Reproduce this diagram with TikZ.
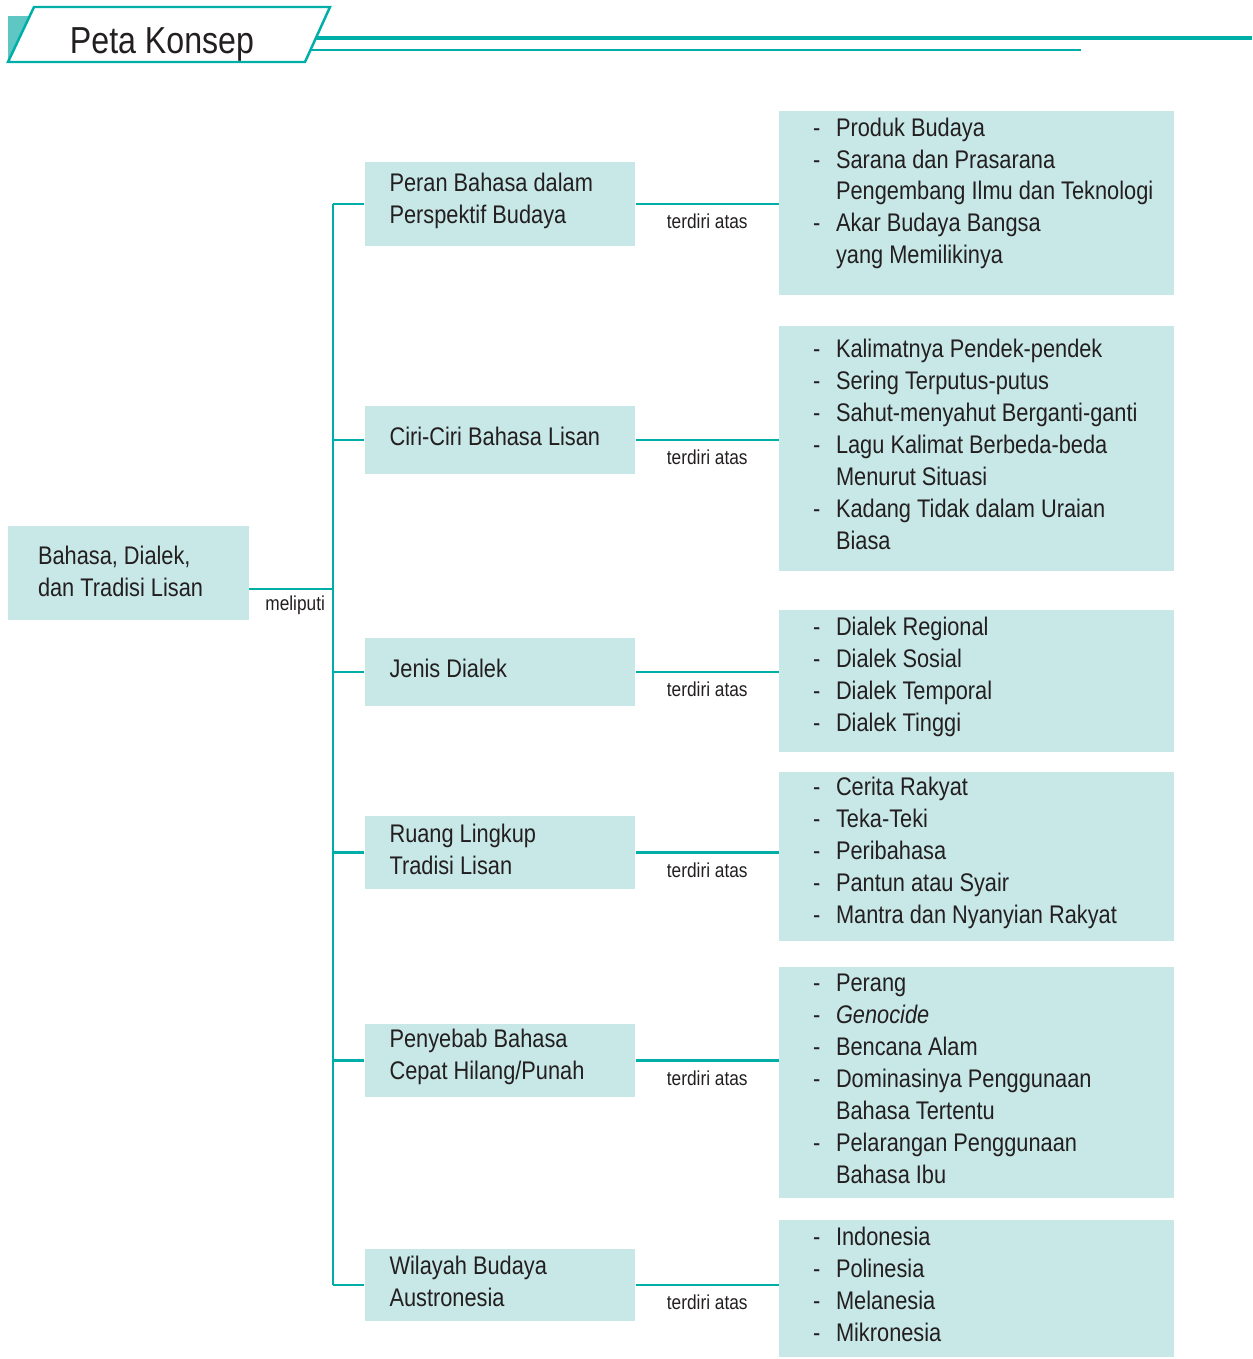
\documentclass[tikz,border=0pt]{standalone}
\usepackage{fontspec}
\setmainfont{Liberation Sans}[FakeStretch=0.855]
\definecolor{tosca}{RGB}{0,174,168}
\definecolor{toscamuda}{RGB}{200,232,232}
\definecolor{toscasegi}{RGB}{94,198,195}
\definecolor{teks}{RGB}{35,31,32}
\newcommand{\butir}{\hspace*{0.68cm}\makebox[0.46cm][l]{-}}
\newcommand{\lanjut}{\hspace*{1.14cm}}
\tikzset{
  akar/.style={fill=toscamuda, text=teks, font=\fontsize{14.5}{18.2}\selectfont, align=flush left,
    text width=3.62cm, inner xsep=0.6cm, inner ysep=0.1cm, minimum height=1.88cm,
    execute at end node={\par\vspace{0.08cm}}},
  tengah/.style={fill=toscamuda, text=teks, font=\fontsize{14.5}{18.2}\selectfont, align=flush left,
    text width=4.42cm, inner xsep=0.5cm, inner ysep=0.1cm,
    execute at end node={\par\vspace{0.13cm}}},
  rincian/.style={fill=toscamuda, text=teks, font=\fontsize{14.5}{18.2}\selectfont, align=flush left,
    text width=7.9cm, inner xsep=0pt, inner ysep=0.1cm,
    execute at end node={\par\vspace{0.15cm}}},
  ket/.style={text=teks, font=\fontsize{11.5}{13}\selectfont, inner sep=5pt},
  garis/.style={draw=tosca, line width=1.3pt}
}
\begin{document}
\begin{tikzpicture}[x=0.02cm, y=-0.02cm]
\useasboundingbox (0,0) rectangle (1252,1359);
% judul
\fill[toscasegi] (8,16) -- (29.7,16) -- (8,62) -- cycle;
\draw[tosca, line width=1.4pt] (34,7) -- (330,7) -- (305,62) -- (8,62) -- cycle;
\draw[tosca, line width=2.8pt] (315.9,38) -- (1252,38);
\draw[tosca, line width=1.4pt] (310.5,50) -- (1081,50);
\node[font=\fontsize{21.4}{24}\selectfont, text=teks, anchor=base] (judul) at (162,53) {Peta Konsep};

% akar
\node[akar] (akar) at (128.5,573) {Bahasa, Dialek,\\ dan Tradisi Lisan};

% tengah
\node[tengah, minimum height=1.68cm] (peran) at (500,204) {Peran Bahasa dalam\\ Perspektif Budaya};
\node[tengah, minimum height=1.36cm] (ciri) at (500,440) {Ciri-Ciri Bahasa Lisan};
\node[tengah, minimum height=1.36cm] (jenis) at (500,672) {Jenis Dialek};
\node[tengah, minimum height=1.46cm] (ruang) at (500,852.5) {Ruang Lingkup\\ Tradisi Lisan};
\node[tengah, minimum height=1.46cm] (sebab) at (500,1060.5) {Penyebab Bahasa\\ Cepat Hilang/Punah};
\node[tengah, minimum height=1.44cm] (wilayah) at (500,1285) {Wilayah Budaya\\ Austronesia};

% rincian
\node[rincian, minimum height=3.68cm] (rperan) at (976.5,203) {\butir Produk Budaya\\
  \butir Sarana dan Prasarana\\ \lanjut Pengembang Ilmu dan Teknologi\\
  \butir Akar Budaya Bangsa\\ \lanjut yang Memilikinya\rule[-0.34cm]{0pt}{0.34cm}};
\node[rincian, minimum height=4.9cm] (rciri) at (976.5,448.5) {\butir Kalimatnya Pendek-pendek\\
  \butir Sering Terputus-putus\\ \butir Sahut-menyahut Berganti-ganti\\
  \butir Lagu Kalimat Berbeda-beda\\ \lanjut Menurut Situasi\\
  \butir Kadang Tidak dalam Uraian\\ \lanjut Biasa};
\node[rincian, minimum height=2.84cm] (rjenis) at (976.5,681) {\butir Dialek Regional\\
  \butir Dialek Sosial\\ \butir Dialek Temporal\\ \butir Dialek Tinggi};
\node[rincian, minimum height=3.3cm] (rruang) at (976.5,856.5) {\butir Cerita Rakyat\\
  \butir Teka-Teki\\ \butir Peribahasa\\ \butir Pantun atau Syair\\
  \butir Mantra dan Nyanyian Rakyat};
\node[rincian, minimum height=4.62cm] (rsebab) at (976.5,1082.5) {\butir Perang\\
  \butir \textit{Genocide}\\ \butir Bencana Alam\\ \butir Dominasinya Penggunaan\\
  \lanjut Bahasa Tertentu\\ \butir Pelarangan Penggunaan\\ \lanjut Bahasa Ibu};
\node[rincian, minimum height=2.74cm] (rwilayah) at (976.5,1288.5) {\butir Indonesia\\
  \butir Polinesia\\ \butir Melanesia\\ \butir Mikronesia};

% garis penghubung
\coordinate (batang) at (333,203);
\coordinate (rj) at ([yshift=-0.32cm]akar.east);
\draw[garis] (peran.west -| batang) -- (wilayah.west -| batang);
\draw[garis] (rj) -- (rj -| batang) node[midway, below, ket, inner sep=3pt, xshift=0.08cm] {meliputi};
\foreach \n in {peran,ciri,jenis,ruang,sebab,wilayah}
  \draw[garis] (\n.west -| batang) -- (\n.west);
\foreach \a/\b in {peran/rperan,ciri/rciri,jenis/rjenis,ruang/rruang,sebab/rsebab,wilayah/rwilayah}
  \draw[garis] (\a.east) -- (\a.east -| \b.west) node[midway, below, ket] {terdiri atas};
\end{tikzpicture}
\end{document}
